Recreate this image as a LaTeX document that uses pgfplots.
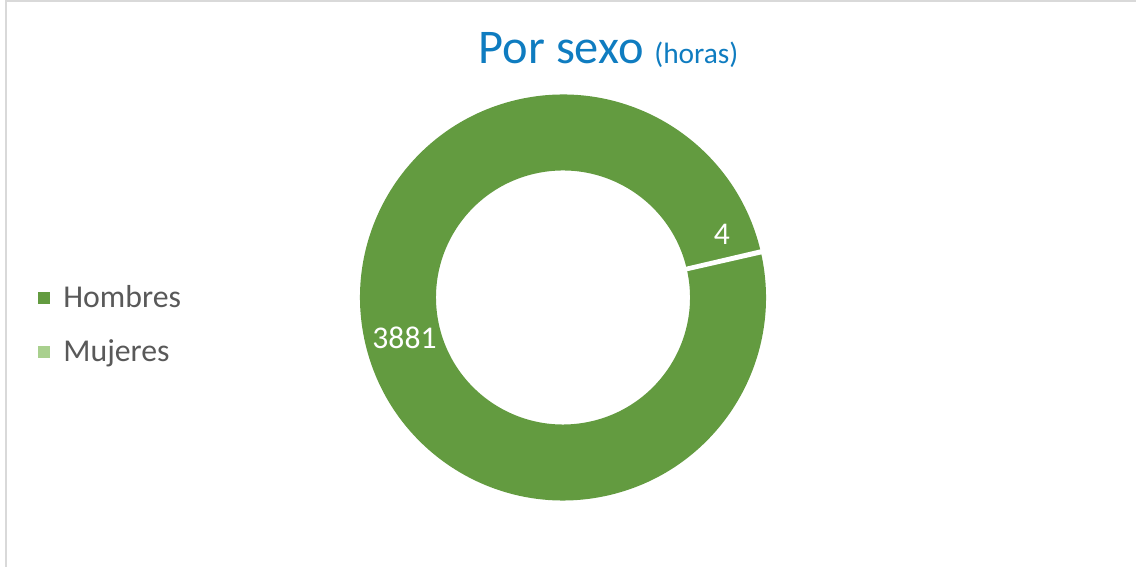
\documentclass[border=0pt]{standalone}
\usepackage{pgfplots}
\pgfplotsset{compat=1.18}
\usepackage{pgfplotstable}
\usepackage{fontspec}
\setmainfont{Carlito}
\definecolor{hom}{HTML}{639B40}
\definecolor{muj}{HTML}{A9D08E}
\definecolor{tit}{HTML}{0F7CC0}
\definecolor{leg}{HTML}{595959}
\definecolor{frame}{HTML}{D9D9D9}
\pgfplotstableread{
sexo horas
Hombres 3881
Mujeres 4
}\datatable
\pgfplotstablegetelem{0}{horas}\of\datatable \let\vH\pgfplotsretval
\pgfplotstablegetelem{1}{horas}\of\datatable \let\vM\pgfplotsretval
\begin{document}
\begin{tikzpicture}
\pgfmathsetmacro{\tot}{\vH+\vM}
\pgfmathsetmacro{\aM}{360*(\vM/\tot)}
\pgfmathsetmacro{\tz}{12.8}
\pgfmathsetmacro{\aone}{\tz+\aM}
\pgfmathsetmacro{\atwo}{\tz+360}
\def\cx{563}\def\cy{269.5}\def\Ro{203}\def\Ri{127}
\begin{axis}[width=568pt,height=283.5pt,scale only axis,
  xmin=0,xmax=1136,ymin=0,ymax=567,hide axis,clip=false]
% frame
\draw[frame,line width=1pt] (axis cs:6,0) -- (axis cs:6,565.5) -- (axis cs:1136,565.5);
% Hombres
\fill[hom] (axis cs:{\cx+\Ro*cos(\aone)},{\cy+\Ro*sin(\aone)})
  arc[start angle=\aone,end angle=\atwo,radius=101.5pt]
  -- (axis cs:{\cx+\Ri*cos(\atwo)},{\cy+\Ri*sin(\atwo)})
  arc[start angle=\atwo,end angle=\aone,radius=63.5pt] -- cycle;
% Mujeres
\fill[muj] (axis cs:{\cx+\Ro*cos(\tz)},{\cy+\Ro*sin(\tz)})
  arc[start angle=\tz,end angle=\aone,radius=101.5pt]
  -- (axis cs:{\cx+\Ri*cos(\aone)},{\cy+\Ri*sin(\aone)})
  arc[start angle=\aone,end angle=\tz,radius=63.5pt] -- cycle;
% separators
\draw[white,line width=1.9pt] (axis cs:{\cx+(\Ri-3)*cos(\tz)},{\cy+(\Ri-3)*sin(\tz)}) -- (axis cs:{\cx+(\Ro+3)*cos(\tz)},{\cy+(\Ro+3)*sin(\tz)});
\draw[white,line width=1.9pt] (axis cs:{\cx+(\Ri-3)*cos(\aone)},{\cy+(\Ri-3)*sin(\aone)}) -- (axis cs:{\cx+(\Ro+3)*cos(\aone)},{\cy+(\Ro+3)*sin(\aone)});
% labels
\node[white,font=\fontsize{15.8}{18}\selectfont] at (axis cs:722,332.5) {4};
\node[white,font=\fontsize{15.8}{18}\selectfont] at (axis cs:404.5,229) {3881};
% title
\node[anchor=base,tit,font=\fontsize{24.2}{28}\selectfont] at (axis cs:608.5,503) {Por sexo {\fontsize{14.7}{17}\selectfont(horas)}};
% legend
\fill[hom] (axis cs:38,263) rectangle (axis cs:50,275);
\fill[muj] (axis cs:38,209) rectangle (axis cs:50,221);
\node[anchor=base west,leg,font=\fontsize{15.9}{19}\selectfont,inner sep=0pt] at (axis cs:63,259) {Hombres};
\node[anchor=base west,leg,font=\fontsize{15.9}{19}\selectfont,inner sep=0pt] at (axis cs:63,205) {Mujeres};
\end{axis}
\pgfresetboundingbox
\path (current axis.south west) rectangle (current axis.north east);
\end{tikzpicture}
\end{document}
